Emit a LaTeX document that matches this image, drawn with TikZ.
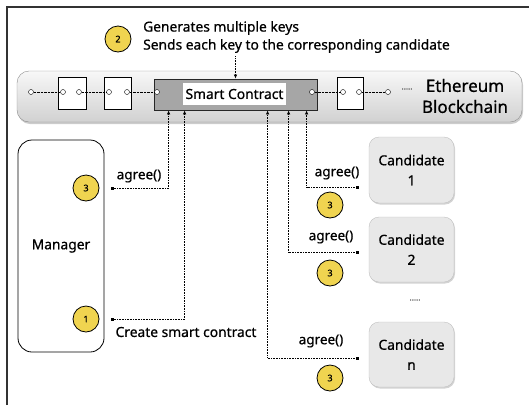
\documentclass[tikz,border=0pt]{standalone}
\usepackage{fontspec}
\setmainfont{Noto Sans}[FakeBold=0.7]
\usepackage{xcolor}
\usepackage{tikz}
\usetikzlibrary{calc,positioning,arrows.meta,shadows}

\definecolor{stepyellow}{RGB}{240,212,80}

\begin{document}
\begin{tikzpicture}[
    x=1pt,y=-1pt,font=\fontsize{13.8}{18}\selectfont,
    num/.style={circle,draw,thick,fill=stepyellow,minimum size=26pt,inner sep=0pt,font=\fontsize{9}{9}\selectfont},
    link/.style={circle,draw,fill=white,minimum size=5pt,inner sep=0pt},
    block/.style={draw,thick,fill=white,minimum height=32pt,inner sep=0pt},
    chain/.style={densely dotted},
    call/.style={font=\fontsize{13.5}{16}\selectfont},
    conn/.style={densely dotted,semithick,{Square[length=3pt,width=3pt]}-{Latex[length=4pt,width=3.5pt]}},
    cand/.style={draw=black!25,fill=black!9,rounded corners=10pt,minimum width=85pt,
      align=center,font=\fontsize{13.8}{20}\selectfont,
      drop shadow={opacity=.35,shadow xshift=1pt,shadow yshift=-1.5pt}}
  ]
  \useasboundingbox (0,0) rectangle (529,405);
  \draw[line width=1.2pt,black!80] (7,405) -- (7,7) -- (529,7);

  % step 2
  \node[num] (n2) at (118,39) {2};
  \node[anchor=west,align=left,inner xsep=0pt] (gen) at (143,37) {Generates multiple keys\\Sends each key to the corresponding candidate};

  % blockchain
  \node[draw=black!45,rounded corners=12pt,top color=black!3,bottom color=black!18,
    minimum width=505pt,minimum height=51pt,
    drop shadow={opacity=.4,shadow xshift=1pt,shadow yshift=-2pt}] (bc) at (269.5,96.5) {};
  \node[block,minimum width=28pt] (b1) at (72,93) {};
  \node[block,minimum width=27pt] (b2) at (117.5,93) {};
  \node[block,minimum width=26pt] (b3) at (350,93) {};
  \node[draw=black!85,thick,fill=black!35,minimum width=163pt,minimum height=31pt] (sc) at (235.5,94.5) {};
  \node[fill=white,minimum width=103pt,minimum height=22pt,inner sep=0pt] (sclabel) at (234.5,94) {Smart Contract};
  \foreach \x/\n in {31/l1,63/l2,79/l3,109/l4,127/l5,157/l6,312/l7,343/l8,359/l9,388/l10}
    \node[link] (\n) at (\x,92) {};
  \foreach \a/\b in {l1/l2,l3/l4,l5/l6,l7/l8,l9/l10}
    \draw[chain] (\a) -- (\b);
  \node[font=\fontsize{8}{8}\selectfont,black!70] (more) at (407,89) {.....};
  \node[align=center,font=\fontsize{17}{21}\selectfont] (eth) at (465,96) {Ethereum\\Blockchain};
  \draw[densely dotted,semithick,-{Latex[length=4pt,width=3.5pt]}] (gen.south -| sc.north) -- (sc.north);

  % manager
  \node[draw,thick,rounded corners=14pt,minimum width=86pt,minimum height=212pt] (mgr) at (61,246) {Manager};
  \node[num] (m3) at (86,188) {3};
  \node[num] (m1) at (86,319) {1};
  \coordinate (e3) at (111,188);
  \coordinate (e1) at (111,319);
  \node[call] (ag0) at (139,176) {agree()};
  \node (create) at (186,332) {Create smart contract};

  % candidates
  \node[cand,minimum height=66pt] (c1) at (411.5,170) {Candidate\\1};
  \node[cand,minimum height=65pt] (c2) at (411.5,249.5) {Candidate\\2};
  \node[cand,minimum height=65pt] (cn) at (411.5,354.5) {Candidate\\n};
  \node[font=\fontsize{8}{8}\selectfont,black!70] (dots) at (415,300) {.....};
  \node[num] (k1) at (330,205) {3};
  \node[num] (k2) at (330,273) {3};
  \node[num] (kn) at (330,378) {3};
  \coordinate (f1) at (359,187);
  \coordinate (f2) at (359,252);
  \coordinate (fn) at (359,358);
  \node[call] (ag1) at (337,173) {agree()};
  \node[call] (ag2) at (331,237) {agree()};
  \node[call] (agn) at (321,341) {agree()};

  % calls into the contract
  \coordinate (in1) at ($(sc.south west)+(15,0)$);
  \coordinate (in2) at ($(sc.south west)+(31,0)$);
  \coordinate (in3) at ($(sc.south west)+(114,0)$);
  \coordinate (in4) at ($(sc.south west)+(135,0)$);
  \coordinate (in5) at ($(sc.south west)+(153,0)$);
  \draw[conn] (e3) -| (in1);
  \draw[conn] (e1) -| (in2);
  \draw[conn] (fn) -| (in3);
  \draw[conn] (f2) -| (in4);
  \draw[conn] (f1) -| (in5);
\end{tikzpicture}
\end{document}
